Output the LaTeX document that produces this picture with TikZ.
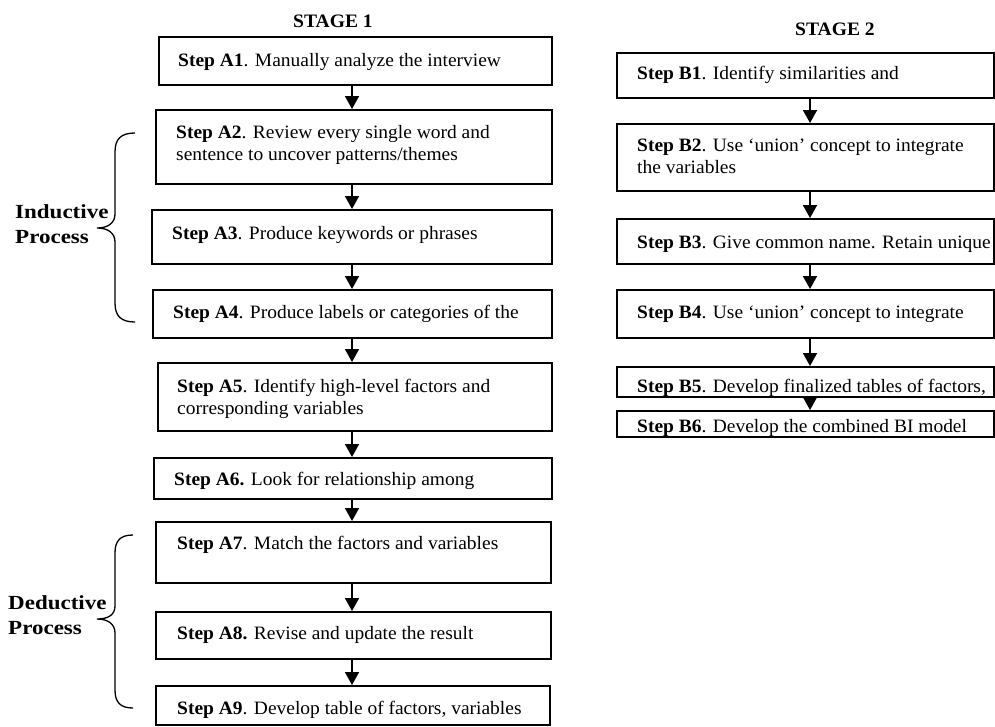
\documentclass[tikz,border=0pt]{standalone}
\usepackage{fontspec}
\setmainfont{Liberation Serif}[FakeStretch=1.03]
\newfontfamily\lblfont{Liberation Serif}[FakeStretch=1.15]
\usetikzlibrary{arrows.meta}
\begin{document}
\begin{tikzpicture}[x=1pt,y=-1pt,
  box/.style={draw, line width=1.8pt, anchor=north west, inner sep=0pt},
  txt/.style={anchor=base west, inner sep=0pt, font=\fontsize{18.9}{21.5}\selectfont, align=left},
  lbl/.style={anchor=base west, inner sep=0pt, font=\lblfont\bfseries\fontsize{20}{25}\selectfont, align=left},
  stage/.style={anchor=base, inner sep=0pt, font=\bfseries\fontsize{19}{22}\selectfont},
  flow/.style={line width=1.8pt, -{Triangle[width=14pt,length=13pt]}},
  brc/.style={line width=1.3pt}]
\useasboundingbox (0,0) rectangle (995,726);
% stage titles
\node[stage] (S1) at (333,27) {STAGE 1};
\node[stage] (S2) at (835,35) {STAGE 2};
% stage 1 boxes
\node[box, minimum width=393, minimum height=48] (A1) at (158,36) {};
\node[box, minimum width=396, minimum height=74] (A2) at (155,109) {};
\node[box, minimum width=400, minimum height=54] (A3) at (151,209) {};
\node[box, minimum width=399, minimum height=48] (A4) at (152,289) {};
\node[box, minimum width=394, minimum height=68] (A5) at (157,362) {};
\node[box, minimum width=398, minimum height=41] (A6) at (153,457) {};
\node[box, minimum width=395, minimum height=61] (A7) at (155,521) {};
\node[box, minimum width=395, minimum height=47] (A8) at (155,611) {};
\node[box, minimum width=394, minimum height=39] (A9) at (155,685) {};
% stage 1 texts (multi-line nodes are placed by their last baseline)
\node[txt] (A1t) at (178,66) {\textbf{Step A1}. Manually analyze the interview};
\node[txt] (A2t) at (176,160) {\textbf{Step A2}. Review every single word and\\sentence to uncover patterns/themes};
\node[txt] (A3t) at (172,239) {\textbf{Step A3}. Produce keywords or phrases};
\node[txt] (A4t) at (173,318) {\textbf{Step A4}. Produce labels or categories of the};
\node[txt] (A5t) at (177,414) {\textbf{Step A5}. Identify high-level factors and\\corresponding variables};
\node[txt] (A6t) at (174,485) {\textbf{Step A6.} Look for relationship among};
\node[txt] (A7t) at (177,549) {\textbf{Step A7}. Match the factors and variables};
\node[txt] (A8t) at (177,639) {\textbf{Step A8.} Revise and update the result};
\node[txt] (A9t) at (177,714) {\textbf{Step A9}. Develop table of factors, variables};
% stage 2 boxes
\node[box, minimum width=377, minimum height=45] (B1) at (616,52) {};
\node[box, minimum width=377, minimum height=67] (B2) at (616,123) {};
\node[box, minimum width=377, minimum height=45] (B3) at (616,218) {};
\node[box, minimum width=377, minimum height=48] (B4) at (616,289) {};
\node[box, minimum width=377, minimum height=30] (B5) at (616,366) {};
\node[box, minimum width=377, minimum height=26] (B6) at (616,410) {};
% stage 2 texts
\node[txt] (B1t) at (637,79) {\textbf{Step B1}. Identify similarities and};
\node[txt] (B2t) at (637,173) {\textbf{Step B2}. Use ‘union’ concept to integrate\\the variables};
\node[txt] (B3t) at (637,248) {\textbf{Step B3}. Give common name. Retain unique};
\node[txt] (B4t) at (637,318) {\textbf{Step B4}. Use ‘union’ concept to integrate};
\node[txt] (B5t) at (637,392) {\textbf{Step B5}. Develop finalized tables of factors,};
\node[txt] (B6t) at (637,432) {\textbf{Step B6}. Develop the combined BI model};
% arrows
\coordinate (ax) at (352,0);
\coordinate (bx) at (810,0);
\foreach \u/\v in {A1/A2,A2/A3,A3/A4,A4/A5,A5/A6,A6/A7,A7/A8,A8/A9}
  \draw[flow] (\u.south -| ax) -- (\v.north -| ax);
\foreach \u/\v in {B1/B2,B2/B3,B3/B4,B4/B5,B5/B6}
  \draw[flow] (\u.south -| bx) -- (\v.north -| bx);
% braces
\draw[brc] (135,133) .. controls (121,133) and (115,139) .. (115,152) -- (115,214)
  .. controls (115,223) and (108,228) .. (97,228)
  .. controls (108,228) and (115,233) .. (115,242) -- (115,303)
  .. controls (115,316) and (121,322) .. (135,322);
\draw[brc] (133,535) .. controls (120,535) and (115,541) .. (115,553) -- (115,606)
  .. controls (115,615) and (108,619) .. (97,619)
  .. controls (108,619) and (115,624) .. (115,633) -- (115,690)
  .. controls (115,702) and (120,708) .. (133,708);
\node[lbl] (ind) at (15,243) {Inductive\\Process};
\node[lbl] (ded) at (8,634) {Deductive\\Process};
\end{tikzpicture}
\end{document}
